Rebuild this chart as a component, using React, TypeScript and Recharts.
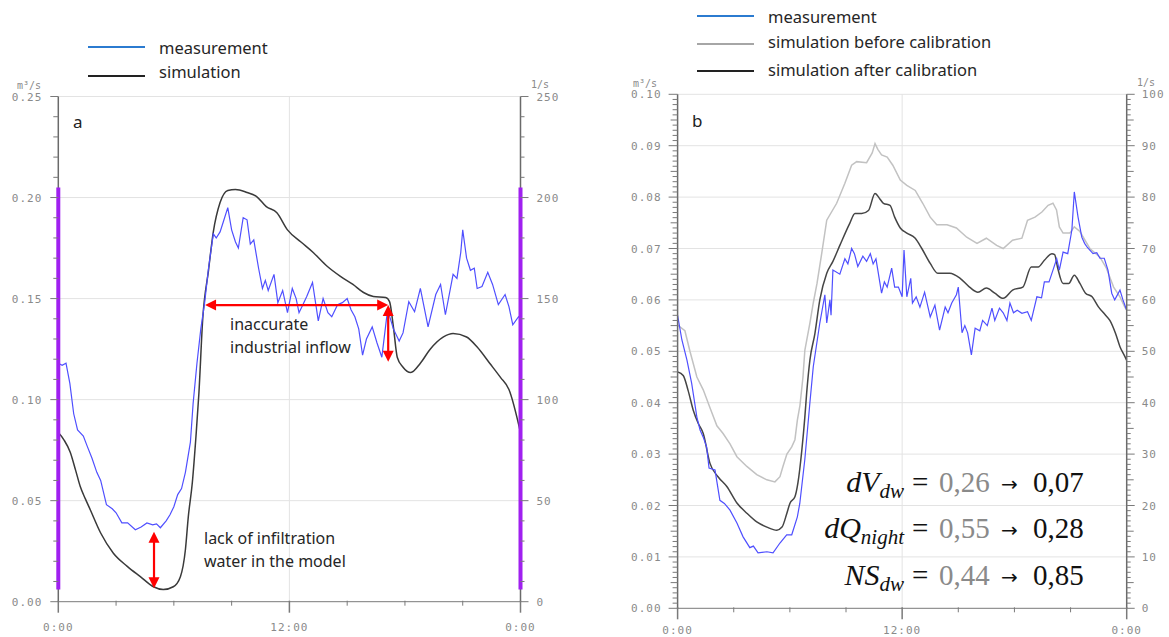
import React from 'react';
import { LineChart, Line, XAxis, YAxis, ReferenceLine, CartesianGrid } from 'recharts';

type P = [number, number];

// ---------- Panel a data (hour, m³/s) ----------
const measurementA: P[] = [
  [0, 0.118], [0.2, 0.117], [0.4, 0.118], [0.6, 0.108], [0.8, 0.093], [1.0, 0.085], [1.3, 0.082],
  [1.5, 0.077], [1.75, 0.071], [2.0, 0.064], [2.2, 0.06], [2.5, 0.048], [2.8, 0.046], [3.0, 0.044],
  [3.3, 0.039], [3.6, 0.039], [4.0, 0.0356], [4.3, 0.037], [4.6, 0.039], [4.9, 0.038], [5.1, 0.0385],
  [5.3, 0.0366], [5.6, 0.04], [5.8, 0.043], [6.0, 0.047], [6.2, 0.053], [6.4, 0.056], [6.6, 0.064],
  [6.86, 0.079], [7.0, 0.098], [7.2, 0.118], [7.4, 0.135], [7.6, 0.148], [7.8, 0.165], [8.05, 0.182],
  [8.2, 0.18], [8.4, 0.183], [8.57, 0.188], [8.8, 0.195], [9.0, 0.184], [9.2, 0.178], [9.35, 0.175],
  [9.6, 0.19], [9.8, 0.189], [9.97, 0.177], [10.15, 0.179], [10.4, 0.165], [10.6, 0.155], [10.75, 0.159],
  [10.9, 0.154], [11.2, 0.162], [11.4, 0.148], [11.65, 0.154], [11.9, 0.143], [12.15, 0.155], [12.35, 0.15],
  [12.5, 0.143], [12.7, 0.147], [12.9, 0.151], [13.2, 0.158], [13.5, 0.139], [13.75, 0.15], [14.0, 0.143],
  [14.2, 0.141], [14.5, 0.147], [14.75, 0.148], [15.0, 0.15], [15.2, 0.1445], [15.4, 0.141], [15.6, 0.135],
  [15.8, 0.122], [16.0, 0.13], [16.3, 0.136], [16.55, 0.128], [16.8, 0.121], [17.1, 0.1445], [17.4, 0.135],
  [17.7, 0.129], [17.9, 0.133], [18.2, 0.1485], [18.5, 0.1435], [18.8, 0.155], [19.2, 0.136], [19.6, 0.152],
  [19.85, 0.157], [20.1, 0.142], [20.5, 0.162], [20.7, 0.16], [20.9, 0.173], [21.0, 0.184], [21.2, 0.17],
  [21.4, 0.164], [21.6, 0.165], [21.75, 0.155], [22.0, 0.156], [22.3, 0.163], [22.55, 0.157], [22.85, 0.147],
  [23.2, 0.152], [23.4, 0.146], [23.6, 0.137], [23.9, 0.141], [24.0, 0.14],
];

const simulationA: P[] = [
  [0, 0.0837], [0.3, 0.08], [0.62, 0.074], [0.9, 0.065], [1.14, 0.057], [1.4, 0.051], [1.66, 0.0455],
  [2.2, 0.034], [2.86, 0.024], [3.58, 0.0175], [4.26, 0.0124], [4.94, 0.0074], [5.45, 0.006], [5.97, 0.0074],
  [6.34, 0.0124], [6.6, 0.0257], [6.75, 0.042], [6.96, 0.059], [7.15, 0.082], [7.3, 0.103], [7.5, 0.14],
  [7.8, 0.164], [8.05, 0.183], [8.4, 0.1975], [8.8, 0.2035], [9.2, 0.204], [9.8, 0.2025], [10.3, 0.2005],
  [10.8, 0.1955], [11.35, 0.1925], [11.9, 0.184], [12.6, 0.178], [13.25, 0.1727], [13.96, 0.166],
  [14.65, 0.161], [15.3, 0.157], [15.85, 0.153], [16.36, 0.151], [17.0, 0.1505], [17.2, 0.1485],
  [17.4, 0.136], [17.6, 0.121], [17.9, 0.116], [18.3, 0.1134], [18.8, 0.118], [19.3, 0.1248], [20.0, 0.131],
  [20.5, 0.1327], [21.2, 0.131], [21.75, 0.126], [22.4, 0.118], [22.96, 0.111], [23.4, 0.105], [24, 0.0837],
];

// ---------- Panel b data (hour, m³/s) ----------
const measurementB: P[] = [
  [0, 0.057], [0.23, 0.0522], [0.5, 0.0483], [0.75, 0.0438], [1.03, 0.0372], [1.2, 0.0347], [1.37, 0.0333],
  [1.55, 0.0314], [1.68, 0.0273], [2.0, 0.0269], [2.26, 0.021], [2.5, 0.0204], [2.8, 0.0191], [3.17, 0.0166],
  [3.5, 0.0139], [3.86, 0.0118], [4.05, 0.0121], [4.3, 0.0108], [4.77, 0.011], [5.1, 0.0108], [5.47, 0.0127],
  [5.83, 0.0143], [6.1, 0.0143], [6.4, 0.0178], [6.53, 0.0204], [6.8, 0.029], [7.07, 0.04], [7.25, 0.047],
  [7.6, 0.0555], [7.87, 0.061], [7.97, 0.0555], [8.14, 0.06], [8.2, 0.057], [8.3, 0.0658], [8.67, 0.065],
  [8.94, 0.068], [9.1, 0.067], [9.3, 0.07], [9.45, 0.069], [9.63, 0.0665], [9.9, 0.0685], [10.1, 0.0675],
  [10.3, 0.069], [10.45, 0.067], [10.6, 0.068], [10.7, 0.0658], [10.9, 0.0613], [11.05, 0.0635], [11.2, 0.0625],
  [11.44, 0.0662], [11.6, 0.0625], [11.8, 0.0625], [12.0, 0.0606], [12.1, 0.0697], [12.25, 0.0606],
  [12.46, 0.0642], [12.55, 0.0594], [12.75, 0.0606], [12.95, 0.0586], [13.2, 0.0615], [13.5, 0.0567],
  [13.75, 0.059], [14.0, 0.0541], [14.3, 0.0586], [14.45, 0.0575], [14.65, 0.0594], [14.9, 0.061],
  [15.0, 0.0625], [15.2, 0.0536], [15.35, 0.055], [15.5, 0.0536], [15.7, 0.0493], [15.9, 0.0545],
  [16.15, 0.054], [16.3, 0.056], [16.55, 0.055], [16.8, 0.0584], [16.95, 0.056], [17.2, 0.0584],
  [17.4, 0.0575], [17.6, 0.056], [17.76, 0.0594], [17.95, 0.0575], [18.15, 0.058], [18.4, 0.0574],
  [18.7, 0.0577], [18.9, 0.056], [19.2, 0.0606], [19.45, 0.0604], [19.6, 0.0635], [19.85, 0.0635],
  [20.06, 0.0658], [20.26, 0.068], [20.4, 0.0658], [20.6, 0.0693], [20.85, 0.069], [21.07, 0.0736],
  [21.2, 0.081], [21.4, 0.0761], [21.6, 0.0722], [21.75, 0.071], [21.9, 0.0702], [22.2, 0.069],
  [22.4, 0.0692], [22.57, 0.0681], [22.8, 0.0681], [23.0, 0.0658], [23.2, 0.0613], [23.36, 0.06],
  [23.64, 0.0619], [23.8, 0.06], [24, 0.058],
];

const simBeforeB: P[] = [
  [0, 0.0551], [0.39, 0.054], [0.66, 0.05], [1.03, 0.045], [1.37, 0.0425], [1.73, 0.039], [2.1, 0.0355],
  [2.43, 0.034], [2.8, 0.032], [3.17, 0.0295], [3.7, 0.0276], [4.23, 0.026], [4.77, 0.025], [5.2, 0.0246],
  [5.47, 0.0256], [5.63, 0.0276], [5.84, 0.03], [6.1, 0.0314], [6.27, 0.0328], [6.4, 0.0366], [6.54, 0.0395],
  [6.7, 0.045], [6.8, 0.0502], [7.07, 0.0555], [7.25, 0.0594], [7.45, 0.0632], [7.7, 0.069], [7.97, 0.0755],
  [8.5, 0.0788], [8.94, 0.0827], [9.3, 0.0862], [9.57, 0.0869], [10.1, 0.0867], [10.4, 0.0886],
  [10.55, 0.0904], [10.7, 0.0893], [10.9, 0.0882], [11.2, 0.0878], [11.5, 0.0862], [11.9, 0.0833],
  [12.25, 0.0823], [12.7, 0.0813], [13.1, 0.0788], [13.5, 0.0761], [13.85, 0.0746], [14.4, 0.0746],
  [14.9, 0.074], [15.45, 0.0722], [16.0, 0.071], [16.5, 0.072], [17.05, 0.0706], [17.4, 0.07],
  [17.9, 0.0716], [18.4, 0.072], [18.7, 0.0755], [19.1, 0.0761], [19.47, 0.0771], [19.8, 0.0784],
  [20.06, 0.0788], [20.25, 0.0775], [20.4, 0.0742], [20.6, 0.073], [20.96, 0.073], [21.2, 0.0742],
  [21.5, 0.0733], [22.03, 0.07], [22.57, 0.0683], [22.9, 0.0663], [23.3, 0.0625], [23.64, 0.0606],
  [23.9, 0.0586], [24, 0.058],
];

const simAfterB: P[] = [
  [0, 0.046], [0.3, 0.0453], [0.56, 0.0424], [0.84, 0.0385], [1.1, 0.036], [1.37, 0.034], [1.73, 0.0282],
  [2.16, 0.0256], [2.63, 0.0237], [3.17, 0.0205], [3.7, 0.0185], [4.23, 0.0168], [4.77, 0.0158],
  [5.3, 0.0152], [5.58, 0.0158], [5.84, 0.0185], [6.0, 0.0204], [6.27, 0.0217], [6.43, 0.0244],
  [6.64, 0.0308], [6.8, 0.0372], [6.9, 0.042], [7.07, 0.0483], [7.34, 0.0535], [7.6, 0.06], [7.97, 0.0652],
  [8.3, 0.0675], [8.67, 0.0706], [9.2, 0.0749], [9.48, 0.0768], [9.84, 0.0768], [10.2, 0.0774],
  [10.55, 0.0807], [10.8, 0.0797], [11.0, 0.0788], [11.35, 0.0784], [11.6, 0.0761], [11.9, 0.074],
  [12.25, 0.073], [12.7, 0.072], [13.05, 0.07], [13.5, 0.0671], [13.9, 0.0652], [14.55, 0.0652],
  [15.1, 0.0642], [15.6, 0.0625], [16.05, 0.0615], [16.5, 0.0623], [16.95, 0.0613], [17.4, 0.0603],
  [17.9, 0.0619], [18.45, 0.0625], [18.9, 0.0664], [19.27, 0.0664], [19.6, 0.0677], [20.0, 0.069],
  [20.15, 0.0688], [20.3, 0.0664], [20.6, 0.0632], [20.9, 0.0632], [21.2, 0.0648], [21.5, 0.0632],
  [21.8, 0.0613], [22.15, 0.0606], [22.5, 0.0586], [22.85, 0.0571], [23.1, 0.056], [23.4, 0.0535],
  [23.64, 0.0509], [23.9, 0.049], [24, 0.0482],
];

// ---------- Axes / ticks ----------
const hourTicks = [0, 3, 6, 9, 12, 15, 18, 21, 24];
const hourLabels: Record<number, string> = { 0: '0:00', 12: '12:00', 24: '0:00' };
const gridA = [0.05, 0.1, 0.15, 0.2, 0.25];
const gridB = [0.01, 0.02, 0.03, 0.04, 0.05, 0.06, 0.07, 0.08, 0.09, 0.1];
const leftTicksA = Array.from({ length: 26 }, (_, i) => i / 100);
const rightTicksA = Array.from({ length: 26 }, (_, i) => i * 10);
const leftTicksB = Array.from({ length: 101 }, (_, i) => i / 1000);
const rightTicksB = Array.from({ length: 101 }, (_, i) => i);
const metricNames = [['dV', 'dw'], ['dQ', 'night'], ['NS', 'dw']];
const metricBefore = ['0,26', '0,55', '0,44'];
const metricAfter = ['0,07', '0,28', '0,85'];

// annotation anchors (data coordinates)
const arrowIndustrialH = { t1: 7.62, t2: 17.13, v: 0.1468 };
const arrowIndustrialV = { t: 17.13, v1: 0.1468, v2: 0.1187 };
const arrowInfiltration = { t: 4.97, v1: 0.0346, v2: 0.0066 };
const purpleBar = { v1: 0.006, v2: 0.205 };

const rows = (a: P[]) => a.map(([t, v]) => ({ t, v }));

const TICK_FONT = "'DejaVu Sans Mono', 'Liberation Mono', monospace";
const TEXT_FONT = "'Noto Sans', 'Open Sans', sans-serif";
const AXIS = '#7a7a7a';
const AXIS_DARK = '#6a6a6a';
const LABEL = '#8a8a8a';

function yTick(side: 'left' | 'right', kind: (v: number) => number, fmt: (v: number) => string, lens: number[], gap: number) {
  return (props: any) => {
    const { x, y, payload } = props;
    const v = payload.value;
    const k = kind(v);
    const dir = side === 'left' ? -1 : 1;
    return (
      <g>
        <line x1={x} y1={y} x2={x + dir * lens[k]} y2={y} stroke={AXIS} strokeWidth={1} />
        {k === 2 && (
          <text x={x + dir * gap} y={y} dy={4} textAnchor={side === 'left' ? 'end' : 'start'}
            fontFamily={TICK_FONT} fontSize={11} letterSpacing={1} fill={LABEL}>
            {fmt(v)}
          </text>
        )}
      </g>
    );
  };
}

function xTick(labelDy: number) {
  return (props: any) => {
    const { x, y, payload } = props;
    const v = payload.value;
    const major = v % 12 === 0;
    return (
      <g>
        <line x1={x} y1={y - 1} x2={x} y2={y + (major ? 11 : 4)} stroke={AXIS} strokeWidth={major ? 1.5 : 1} />
        {major && (
          <text x={x} y={y + labelDy} textAnchor="middle" fontFamily={TICK_FONT} fontSize={11} letterSpacing={1} fill={LABEL}>
            {hourLabels[v]}
          </text>
        )}
      </g>
    );
  };
}

const DoubleArrow = (props: any) => {
  const { x1, y1, x2, y2 } = props;
  const dx = x2 - x1, dy = y2 - y1;
  const L = Math.sqrt(dx * dx + dy * dy) || 1;
  const ux = dx / L, uy = dy / L;
  const hl = 11, hw = 5.5;
  const head = (px: number, py: number, sx: number, sy: number) => {
    const bx = px - sx * hl, by = py - sy * hl;
    return `${px},${py} ${bx - sy * hw},${by + sx * hw} ${bx + sy * hw},${by - sx * hw}`;
  };
  return (
    <g>
      <line x1={x1 + ux * 8} y1={y1 + uy * 8} x2={x2 - ux * 8} y2={y2 - uy * 8} stroke="#ff0000" strokeWidth={2.2} />
      <polygon points={head(x2, y2, ux, uy)} fill="#ff0000" />
      <polygon points={head(x1, y1, -ux, -uy)} fill="#ff0000" />
    </g>
  );
};

const abs = (left: number, top: number, extra: React.CSSProperties = {}): React.CSSProperties => ({
  position: 'absolute', left, top, ...extra,
});

const LegendRow = ({ x, y, lineY, color, label, textX }: any) => (
  <>
    <div style={abs(x, lineY - 1, { width: 57, height: 2.2, background: color })} />
    <div style={abs(textX, y - 11, { fontFamily: TEXT_FONT, fontSize: 16.5, lineHeight: '22px', color: '#262626', whiteSpace: 'nowrap' })}>{label}</div>
  </>
);

const noteStyle: React.CSSProperties = { fontFamily: TEXT_FONT, fontSize: 16, lineHeight: '23px', color: '#262626', whiteSpace: 'nowrap' };
const unitStyle: React.CSSProperties = { fontFamily: TICK_FONT, fontSize: 10, lineHeight: '12px', color: LABEL, whiteSpace: 'nowrap' };

export default function App() {
  return (
    <div style={{ position: 'absolute', left: 0, top: 0, width: 1169, height: 637, background: '#fff', overflow: 'hidden' }}>
      {/* Panel a */}
      <div style={abs(0, 0)}>
        <LineChart width={600} height={637} margin={{ top: 96.5, right: 19.5, bottom: 5.3, left: 0 }}>
          <CartesianGrid yAxisId="left" stroke="#e3e3e3" horizontalValues={gridA} verticalValues={[12]} />
          <XAxis type="number" dataKey="t" domain={[0, 24]} ticks={hourTicks} interval={0} height={30}
            axisLine={{ stroke: AXIS }} tickLine={false} tickSize={0} tickMargin={0} tick={xTick(29)} allowDataOverflow />
          <YAxis yAxisId="left" type="number" domain={[0, 0.25]} ticks={leftTicksA} interval={0} width={58.3}
            axisLine={false} tickLine={false} tickSize={0} tickMargin={0} allowDataOverflow
            tick={yTick('left', (v) => (Math.round(v * 100) % 5 === 0 ? 2 : 0), (v) => v.toFixed(2), [5, 5, 8], 16)} />
          <YAxis yAxisId="right" orientation="right" type="number" domain={[0, 250]} ticks={rightTicksA} interval={0} width={60}
            axisLine={false} tickLine={false} tickSize={0} tickMargin={0} allowDataOverflow
            tick={yTick('right', (v) => (Math.round(v) % 50 === 0 ? 2 : 0), (v) => String(v), [4, 4, 8], 16)} />
          <Line yAxisId="left" data={rows(simulationA)} dataKey="v" type="monotone" stroke="#3a3a3a" strokeWidth={1.5} dot={false} isAnimationActive={false} />
          <Line yAxisId="left" data={rows(measurementA)} dataKey="v" type="linear" stroke="#4f4fff" strokeWidth={1.2} dot={false} isAnimationActive={false} />
          <ReferenceLine yAxisId="left" segment={[{ x: 0, y: 0 }, { x: 0, y: 0.25 }]} stroke={AXIS_DARK} strokeWidth={1.5} ifOverflow="visible" />
          <ReferenceLine yAxisId="left" segment={[{ x: 24, y: 0 }, { x: 24, y: 0.25 }]} stroke={AXIS_DARK} strokeWidth={1.5} ifOverflow="visible" />
          <ReferenceLine yAxisId="left" segment={[{ x: 0, y: purpleBar.v1 }, { x: 0, y: purpleBar.v2 }]} stroke="#a020f0" strokeWidth={4} ifOverflow="visible" />
          <ReferenceLine yAxisId="left" segment={[{ x: 24, y: purpleBar.v1 }, { x: 24, y: purpleBar.v2 }]} stroke="#a020f0" strokeWidth={4} ifOverflow="visible" />
          <ReferenceLine yAxisId="left" segment={[{ x: arrowIndustrialH.t1, y: arrowIndustrialH.v }, { x: arrowIndustrialH.t2, y: arrowIndustrialH.v }]} shape={DoubleArrow} ifOverflow="visible" />
          <ReferenceLine yAxisId="left" segment={[{ x: arrowIndustrialV.t, y: arrowIndustrialV.v1 }, { x: arrowIndustrialV.t, y: arrowIndustrialV.v2 }]} shape={DoubleArrow} ifOverflow="visible" />
          <ReferenceLine yAxisId="left" segment={[{ x: arrowInfiltration.t, y: arrowInfiltration.v1 }, { x: arrowInfiltration.t, y: arrowInfiltration.v2 }]} shape={DoubleArrow} ifOverflow="visible" />
        </LineChart>
      </div>

      {/* Panel b */}
      <div style={abs(600, 0)}>
        <LineChart width={569} height={637} margin={{ top: 94.3, right: 2.3, bottom: 4.7, left: 0 }}>
          <CartesianGrid yAxisId="left" stroke="#e3e3e3" horizontalValues={gridB} verticalValues={[12]} />
          <XAxis type="number" dataKey="t" domain={[0, 24]} ticks={hourTicks} interval={0} height={24}
            axisLine={{ stroke: AXIS }} tickLine={false} tickSize={0} tickMargin={0} tick={xTick(26)} allowDataOverflow />
          <YAxis yAxisId="left" type="number" domain={[0, 0.1]} ticks={leftTicksB} interval={0} width={77.6}
            axisLine={{ stroke: AXIS_DARK, strokeWidth: 1.5 }} tickLine={false} tickSize={0} tickMargin={0} allowDataOverflow
            tick={yTick('left', (v) => { const i = Math.round(v * 1000); return i % 10 === 0 ? 2 : i % 5 === 0 ? 1 : 0; }, (v) => v.toFixed(2), [5, 7, 9], 16)} />
          <YAxis yAxisId="right" orientation="right" type="number" domain={[0, 100]} ticks={rightTicksB} interval={0} width={40}
            axisLine={{ stroke: AXIS_DARK, strokeWidth: 1.5 }} tickLine={false} tickSize={0} tickMargin={0} allowDataOverflow
            tick={yTick('right', (v) => { const i = Math.round(v); return i % 10 === 0 ? 2 : i % 5 === 0 ? 1 : 0; }, (v) => String(v), [4, 7, 8], 15)} />
          <Line yAxisId="left" data={rows(simBeforeB)} dataKey="v" type="linear" stroke="#c2c2c2" strokeWidth={1.5} dot={false} isAnimationActive={false} />
          <Line yAxisId="left" data={rows(simAfterB)} dataKey="v" type="monotone" stroke="#454545" strokeWidth={1.5} dot={false} isAnimationActive={false} />
          <Line yAxisId="left" data={rows(measurementB)} dataKey="v" type="linear" stroke="#4f4fff" strokeWidth={1.2} dot={false} isAnimationActive={false} />
        </LineChart>
      </div>

      {/* Legends */}
      <LegendRow x={88} lineY={47} y={47.5} textX={159} color="#2b7bd0" label="measurement" />
      <LegendRow x={88} lineY={76} y={71.5} textX={159} color="#222" label="simulation" />
      <LegendRow x={697} lineY={16} y={16.5} textX={768} color="#2b7bd0" label="measurement" />
      <LegendRow x={697} lineY={44} y={41.5} textX={768} color="#a6a6a6" label="simulation before calibration" />
      <LegendRow x={697} lineY={71} y={70} textX={768} color="#222" label="simulation after calibration" />

      {/* Panel labels, units */}
      <div style={abs(73, 111, { fontFamily: TEXT_FONT, fontSize: 17, lineHeight: '22px', color: '#222' })}>a</div>
      <div style={abs(692, 110, { fontFamily: TEXT_FONT, fontSize: 17, lineHeight: '22px', color: '#222' })}>b</div>
      <div style={abs(17, 80, unitStyle)}>m³/s</div>
      <div style={abs(531, 79, unitStyle)}>1/s</div>
      <div style={abs(633, 78, unitStyle)}>m³/s</div>
      <div style={abs(1137, 77, unitStyle)}>1/s</div>

      {/* Panel a notes */}
      <div style={abs(230, 313, noteStyle)}>inaccurate<br />industrial inflow</div>
      <div style={abs(204, 527, noteStyle)}>lack of infiltration<br />water in the model</div>

      {/* Panel b metrics */}
      <svg style={abs(0, 0, { pointerEvents: 'none' })} width={1169} height={637}>
        <g fontFamily="'Liberation Serif', 'DejaVu Serif', serif" fontSize={29} fill="#111">
          {[492, 538, 585].map((y, i) => (
            <g key={i}>
              <text x={904} y={y} textAnchor="end" fontStyle="italic" fontSize={30}>
                {metricNames[i][0]}<tspan fontSize={21} dy={6}>{metricNames[i][1]}</tspan>
              </text>
              <text x={912} y={y}>=</text>
              <text x={939} y={y} fill="#8a8a8a">{metricBefore[i]}</text>
              <text x={1001} y={y - 1} fontFamily="'DejaVu Sans', sans-serif" fontSize={20}>→</text>
              <text x={1033} y={y}>{metricAfter[i]}</text>
            </g>
          ))}
        </g>
      </svg>
    </div>
  );
}
